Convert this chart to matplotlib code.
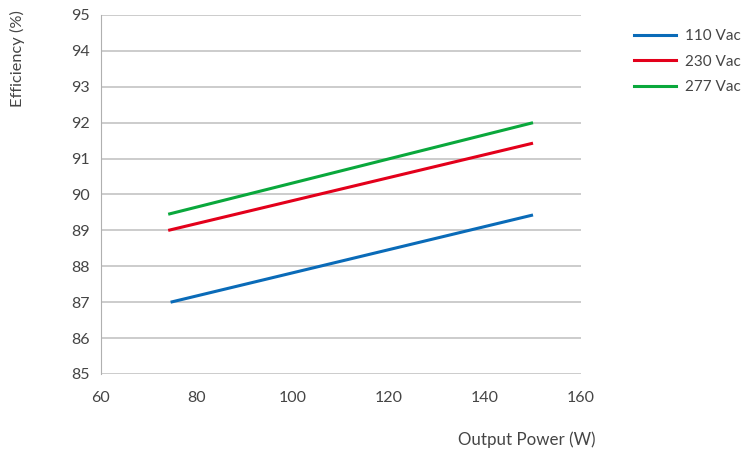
import matplotlib.pyplot as plt
from matplotlib.lines import Line2D

# Donnees
power_110 = [74.5, 150]
eff_110 = [87.0, 89.43]
power_230 = [74, 150]
eff_230 = [89.0, 91.43]
power_277 = [74, 150]
eff_277 = [89.45, 92.0]

series = [
    ('110 Vac', power_110, eff_110, '#0a6bb8'),
    ('230 Vac', power_230, eff_230, '#e3001b'),
    ('277 Vac', power_277, eff_277, '#0aa83c'),
]

txt = '#454545'
plt.rcParams['font.family'] = ['Lato', 'DejaVu Sans']

fig = plt.figure(figsize=(7.47, 4.53), dpi=100)
ax = fig.add_axes([0.1352, 0.1744, 0.6426, 0.7925])

for name, x, y, c in series:
    ax.plot(x, y, color=c, lw=2.2, solid_capstyle='butt', label=name)

ax.set_xlim(60, 160)
ax.set_ylim(85, 95)
ax.set_xticks(range(60, 161, 20))
ax.set_yticks(range(85, 96))
ax.yaxis.grid(True, color='#c4c4c4', lw=1.2)
ax.set_axisbelow(True)
for s in ['top', 'right', 'bottom']:
    ax.spines[s].set_visible(False)
ax.spines['left'].set_color('#b0b0b0')
ax.tick_params(axis='both', colors=txt, labelsize=11.5, length=0)
ax.tick_params(axis='y', pad=8)
ax.tick_params(axis='x', pad=12)

fig.text(0.023, 0.978, 'Efficiency (%)', rotation=90, ha='center', va='top',
         fontsize=11.8, color=txt)
fig.text(0.797, 0.010, 'Output Power (W)', ha='right', va='bottom',
         fontsize=12.2, color=txt)

handles = [Line2D([0], [0], color=c, lw=2.2) for _, _, _, c in series]
fig.legend(handles, [s[0] for s in series], loc='upper left',
           bbox_to_anchor=(0.830, 0.966), frameon=False, fontsize=11,
           handlelength=2.75, handletextpad=0.6, labelspacing=0.75,
           labelcolor=txt)

fig.savefig('out.png', dpi=100)
